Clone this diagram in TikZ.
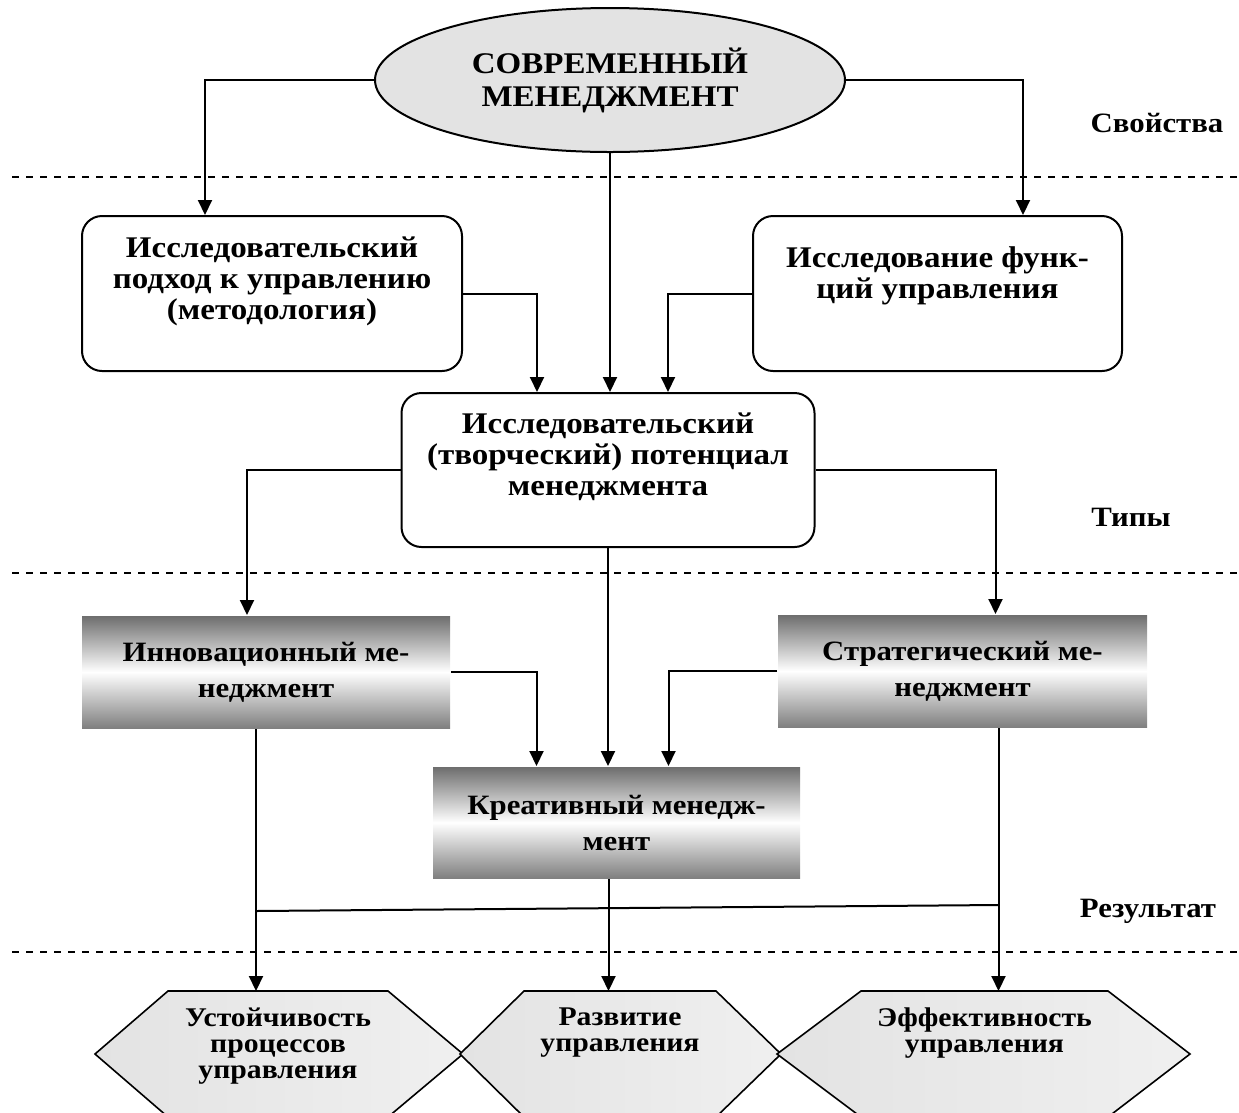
\documentclass[tikz,border=0pt]{standalone}
\usepackage{fontspec}
\setmainfont[FakeStretch=1.1]{Liberation Serif}
\usetikzlibrary{positioning, arrows.meta, shapes.geometric}

\begin{document}
\begin{tikzpicture}[x=1pt, y=-1pt, line width=2pt,
	main/.style = {draw, rounded corners=20pt, align=center, inner sep=0pt, font=\fontsize{30}{31}\selectfont\bfseries},
	grad/.style = {top color=black!57, bottom color=black!50, middle color=white, align=center, inner sep=0pt, minimum height=112pt, font=\fontsize{28}{36}\selectfont\bfseries},
	hexa/.style = {draw, line width=1.6pt, left color=black!11, right color=black!6},
	rtext/.style = {align=center, inner sep=0pt, font=\fontsize{27}{26}\selectfont\bfseries},
	lbl/.style = {font=\fontsize{28}{30}\selectfont\bfseries},
	layer/.style = {line width=1.4pt, dash pattern=on 7pt off 7pt},
	arr/.style = {-{Triangle[length=15pt,width=14pt]}}]
	\useasboundingbox (0,0) rectangle (1239,1112);
	% levels
	\foreach \y in {177,573,952}
		\draw[layer] (12,\y) -- (1239,\y);
	\node[lbl] (l1) at (1157,123) {Свойства};
	\node[lbl] (l2) at (1131,517) {Типы};
	\node[lbl] (l3) at (1148,911) {Результат};
	% top
	\node[draw, ellipse, fill=black!11, minimum width=470pt, minimum height=144pt, inner sep=0pt, align=center, font=\fontsize{30}{33}\selectfont\bfseries] (cm) at (610,80) {СОВРЕМЕННЫЙ\\МЕНЕДЖМЕНТ};
	\node[main, minimum width=380pt, text height=103pt, text depth=52pt] (meth) at (272,293.5) {Исследовательский\\подход к управлению\\(методология)};
	\node[main, minimum width=369pt, text height=82pt, text depth=73pt] (func) at (937.5,293.5) {Исследование функ-\\ций управления};
	\node[main, minimum width=413pt, text height=102pt, text depth=52pt] (pot) at (608,470) {Исследовательский\\(творческий) потенциал\\менеджмента};
	% types
	\node[grad, minimum width=368pt] (inn) at (266,672) {Инновационный ме-\\неджмент};
	\node[grad, minimum width=369pt] (str) at (962.5,671) {Стратегический ме-\\неджмент};
	\node[grad, minimum width=367pt, minimum height=111pt] (cre) at (616.5,822.5) {Креативный менедж-\\мент};
	% results
	\node[minimum width=218pt, minimum height=124pt, inner sep=0pt] (r1) at (278,1054) {};
	\node[minimum width=190pt, minimum height=124pt, inner sep=0pt] (r2) at (620,1054) {};
	\node[minimum width=245pt, minimum height=124pt, inner sep=0pt] (r3) at (984.5,1054) {};
	\draw[hexa] (r1.north west) -- (r1.north east) -- ([xshift=75pt]r1.east) -- (r1.south east) -- (r1.south west) -- ([xshift=-73pt]r1.west) -- cycle;
	\draw[hexa] (r2.north west) -- (r2.north east) -- ([xshift=65pt]r2.east) -- (r2.south east) -- (r2.south west) -- ([xshift=-64pt]r2.west) -- cycle;
	\draw[hexa] (r3.north west) -- (r3.north east) -- ([xshift=82pt]r3.east) -- (r3.south east) -- (r3.south west) -- ([xshift=-84pt]r3.west) -- cycle;
	\node[rtext, below=16pt of r1.north] (t1) {Устойчивость\\процессов\\управления};
	\node[rtext, below=16pt of r2.north] (t2) {Развитие\\управления};
	\node[rtext, below=16pt of r3.north] (t3) {Эффективность\\управления};
	% connectors
	\draw[arr] (cm.west) -| ([xshift=-67pt]meth.north);
	\draw[arr] (cm.east) -| ([xshift=85.5pt]func.north);
	\draw[arr] (cm.south) -- (cm.south |- pot.north);
	\draw[arr] (meth.east) -| ([xshift=-71pt]pot.north);
	\draw[arr] (func.west) -| ([xshift=60pt]pot.north);
	\draw[arr] (pot.west) -| ([xshift=-19pt]inn.north);
	\draw[arr] (pot.east) -| ([xshift=33pt]str.north);
	\draw[arr] (pot.south) -- (pot.south |- cre.north);
	\draw[arr] (inn.east) -| ([xshift=-80pt]cre.north);
	\draw[arr] (str.west) -| ([xshift=52pt]cre.north);
	\draw[arr] ([xshift=-10pt]inn.south) -- ([xshift=-10pt]inn.south |- r1.north);
	\draw[arr] ([xshift=-8pt]cre.south) -- ([xshift=-8pt]cre.south |- r2.north);
	\draw[arr] ([xshift=36pt]str.south) -- ([xshift=36pt]str.south |- r3.north);
	\coordinate (jl) at (256,911);
	\coordinate (jr) at (998.5,905);
	\draw (jl) -- (jr);
\end{tikzpicture}
\end{document}
